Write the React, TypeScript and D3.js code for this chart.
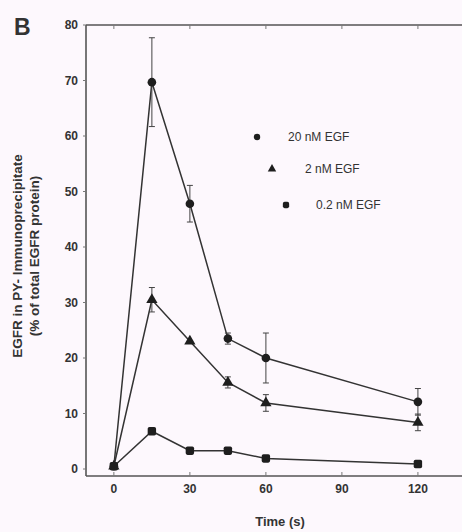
import React from "react";
import * as d3 from "d3";

const times = [0, 15, 30, 45, 60, 120];
const egf20 = [0.5, 69.7, 47.8, 23.5, 20, 12.1];
const egf20Err = [0.5, 8, 3.3, 1, 4.5, 2.4];
const egf2 = [0.5, 30.5, 23, 15.6, 11.9, 8.4];
const egf2Err = [0.5, 2.2, 0.5, 1, 1.5, 1.5];
const egf02 = [0.5, 6.8, 3.3, 3.3, 1.9, 0.9];
const egf02Err = [0.5, 0.6, 0.3, 0.3, 0.3, 0.3];
const xTicks = [0, 30, 60, 90, 120];
const yTicks = [0, 10, 20, 30, 40, 50, 60, 70, 80];
const seriesNames = ["20 nM EGF", "2 nM EGF", "0.2 nM EGF"];

const W = 462, H = 532;
const x = d3.scaleLinear().domain([-11, 137.4]).range([86, 462]);
const y = d3.scaleLinear().domain([-1.26, 80]).range([476, 25]);
const INK = "#1e1e1e";
const FONT = "'Liberation Sans', Arial, sans-serif";

type Shape = "circle" | "triangle" | "square";
const series: { name: string; vals: number[]; err: number[]; shape: Shape }[] = [
  { name: seriesNames[0], vals: egf20, err: egf20Err, shape: "circle" },
  { name: seriesNames[1], vals: egf2, err: egf2Err, shape: "triangle" },
  { name: seriesNames[2], vals: egf02, err: egf02Err, shape: "square" },
];

function Marker({ cx, cy, shape, s = 1 }: { cx: number; cy: number; shape: Shape; s?: number }) {
  if (shape === "circle") return <circle cx={cx} cy={cy} r={4.3 * s} fill={INK} />;
  if (shape === "square")
    return <rect x={cx - 4.2 * s} y={cy - 4.2 * s} width={8.4 * s} height={8.4 * s} rx={1.8} fill={INK} />;
  const path = d3.symbol(d3.symbolTriangle, 55 * s * s)();
  return <path d={path || ""} transform={`translate(${cx},${cy})`} fill={INK} />;
}

export default function App() {
  const line = d3
    .line<number>()
    .x((_, i) => x(times[i]))
    .y((d) => y(d));
  return (
    <svg width={W} height={H} style={{ position: "absolute", left: 0, top: 0, background: "#fdf8fd" }}>
      <rect x={0} y={0} width={W} height={H} fill="#fdf8fd" />
      {/* frame */}
      <line x1={86} x2={W} y1={25} y2={25} stroke="#555" strokeWidth={1.6} />
      <line x1={86} x2={W} y1={476} y2={476} stroke="#555" strokeWidth={1.6} />
      <line x1={86} x2={86} y1={25} y2={476} stroke="#555" strokeWidth={1.6} />
      {xTicks.map((t) => (
        <g key={"xt" + t}>
          <line x1={x(t)} x2={x(t)} y1={25} y2={29} stroke="#777" strokeWidth={1} />
          <line x1={x(t)} x2={x(t)} y1={476} y2={472} stroke="#777" strokeWidth={1} />
          <text x={x(t)} y={493} textAnchor="middle" fontFamily={FONT} fontWeight="bold" fontSize={12} fill="#333">
            {t}
          </text>
        </g>
      ))}
      {yTicks.map((t) => (
        <g key={"yt" + t}>
          <line x1={83} x2={86} y1={y(t)} y2={y(t)} stroke="#777" strokeWidth={1} />
          <text x={78} y={y(t) + 4} textAnchor="end" fontFamily={FONT} fontWeight="bold" fontSize={12} fill="#333">
            {t}
          </text>
        </g>
      ))}
      <text x={14} y={35} fontFamily={FONT} fontWeight="bold" fontSize={23} fill="#333">
        B
      </text>
      <text x={280} y={526} textAnchor="middle" fontFamily={FONT} fontWeight="bold" fontSize={13} fill="#333">
        Time (s)
      </text>
      <g transform="translate(0,256) rotate(-90)" fontFamily={FONT} fontWeight="bold" fontSize={13.5} fill="#333">
        <text x={0} y={22} textAnchor="middle">
          EGFR in PY- Immunoprecipitate
        </text>
        <text x={0} y={39} textAnchor="middle">
          (% of total EGFR protein)
        </text>
      </g>
      {series.map((s) => (
        <g key={s.name}>
          <path d={line(s.vals) || ""} fill="none" stroke="#333" strokeWidth={1.5} />
          {s.vals.map((v, i) => {
            const e = s.err[i];
            const cx = x(times[i]);
            return (
              <g key={i}>
                {e > 0.6 && (
                  <g stroke="#444" strokeWidth={1}>
                    <line x1={cx} x2={cx} y1={y(v + e)} y2={y(v - e)} />
                    <line x1={cx - 3} x2={cx + 3} y1={y(v + e)} y2={y(v + e)} />
                    <line x1={cx - 3} x2={cx + 3} y1={y(v - e)} y2={y(v - e)} />
                  </g>
                )}
                <Marker cx={cx} cy={y(v)} shape={s.shape} />
              </g>
            );
          })}
        </g>
      ))}
      {/* legend */}
      {series.map((s, i) => {
        const rows = [
          { mx: 257, ty: 137, tx: 288 },
          { mx: 272, ty: 169, tx: 305 },
          { mx: 286, ty: 205, tx: 316 },
        ];
        const r = rows[i];
        return (
          <g key={"lg" + i}>
            <Marker cx={r.mx} cy={r.ty} shape={s.shape} s={0.75} />
            <text x={r.tx} y={r.ty + 4} fontFamily={FONT} fontSize={12} fill="#333">
              {s.name}
            </text>
          </g>
        );
      })}
    </svg>
  );
}
